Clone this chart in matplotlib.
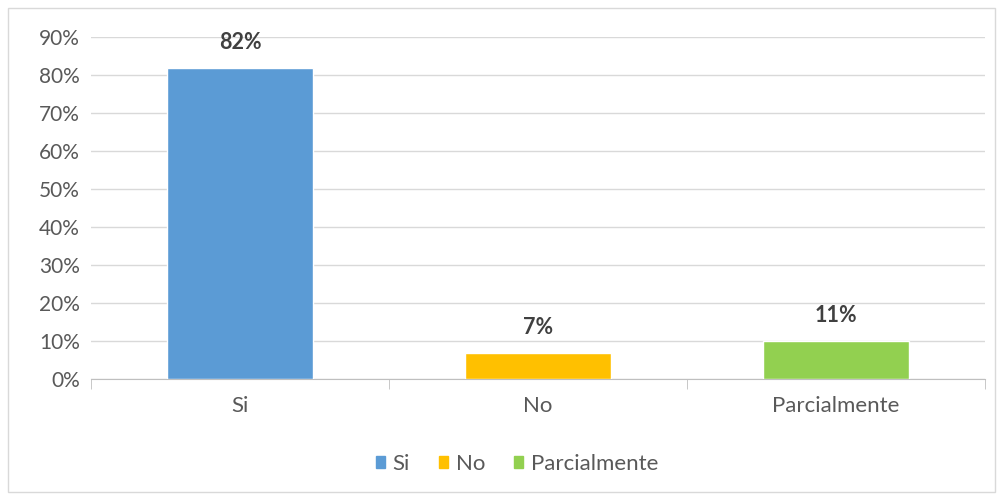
import numpy as np
import matplotlib.pyplot as plt
from matplotlib.patches import Rectangle
from matplotlib.ticker import PercentFormatter

plt.rcParams["font.family"] = ["Lato", "DejaVu Sans"]

# data
categories = ["Si", "No", "Parcialmente"]
values = [0.818, 0.068, 0.100]
value_labels = ["82%", "7%", "11%"]
colors = ["#5B9BD5", "#FFC000", "#92D050"]

fig = plt.figure(figsize=(10.02, 5.0), dpi=100)
ax = fig.add_axes([0.0908, 0.242, 0.892, 0.684])

# chart border
fig.patches.append(Rectangle((0.008, 0.016), 0.985, 0.968, transform=fig.transFigure,
                             fill=False, edgecolor="#d9d9d9", linewidth=1))

x = np.arange(len(categories))
bars = ax.bar(x, values, width=0.49, color=colors, edgecolor="white", linewidth=1,
              zorder=3)

for b, lab in zip(bars, value_labels):
    ax.annotate(lab, (b.get_x() + b.get_width() / 2, b.get_height()),
                xytext=(0, 26), textcoords="offset pixels",
                ha="center", va="center", fontsize=15.5, fontweight="bold",
                color="#404040")

ax.set_xlim(-0.5, len(categories) - 0.5)
ax.set_ylim(0, 0.9)
ax.set_yticks(np.arange(0, 0.91, 0.1))
ax.yaxis.set_major_formatter(PercentFormatter(1.0, decimals=0))
ax.set_xticks(x)
ax.set_xticklabels(categories)
ax.set_xticks(np.arange(-0.5, len(categories), 1.0), minor=True)

ax.grid(axis="y", color="#d9d9d9", linewidth=1, zorder=0)
ax.set_axisbelow(True)
for s in ["top", "right", "left"]:
    ax.spines[s].set_visible(False)
ax.spines["bottom"].set_color("#bfbfbf")
ax.tick_params(axis="y", length=0, labelsize=15, labelcolor="#595959", pad=8)
ax.tick_params(axis="x", which="major", length=0, labelsize=16, labelcolor="#595959", pad=12)
ax.tick_params(axis="x", which="minor", length=7, color="#bfbfbf")

handles = [Rectangle((0, 0), 1, 1, color=c) for c in colors]
fig.legend(handles, categories, loc="center", bbox_to_anchor=(0.516, 0.072), ncol=3,
           frameon=False, fontsize=16, handlelength=0.4, handleheight=0.4,
           columnspacing=1.3, handletextpad=0.36, labelcolor="#595959")

plt.savefig("out.png", dpi=100)
